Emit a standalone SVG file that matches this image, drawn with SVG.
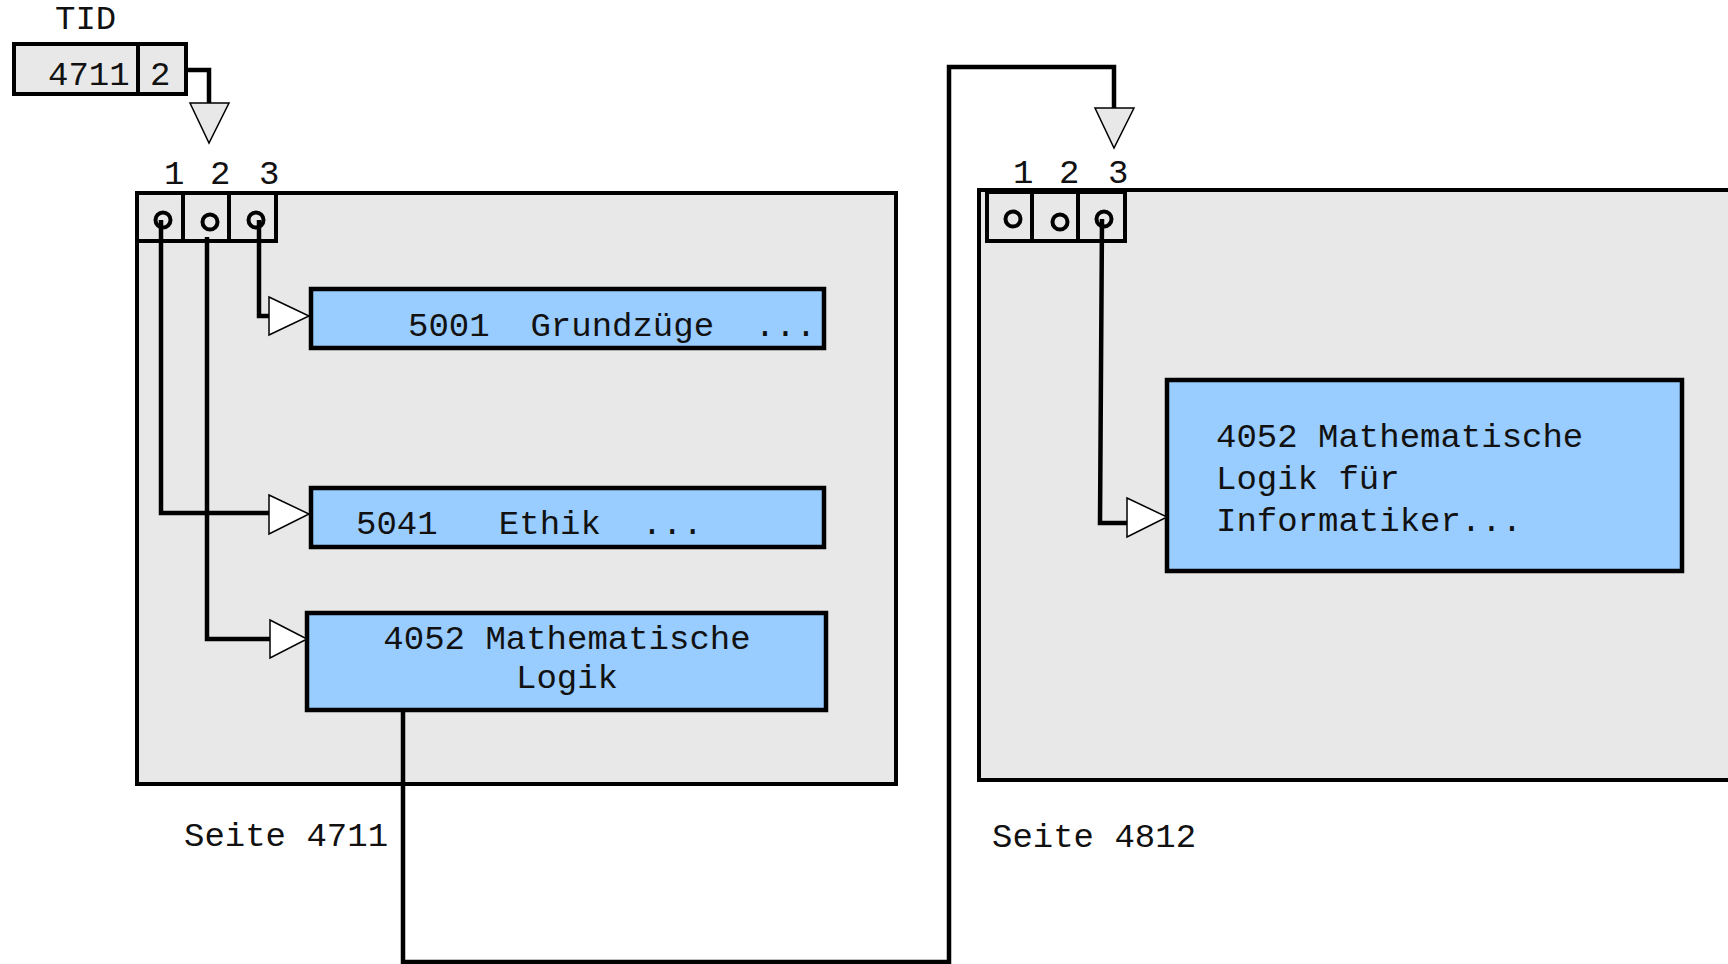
<svg xmlns="http://www.w3.org/2000/svg" width="1728" height="964" viewBox="0 0 1728 964">
<style>
text{font-family:"Liberation Mono","Courier New",monospace;font-size:34px;fill:#111}
.panel{fill:#e8e8e8;stroke:#000;stroke-width:4}
.cell{fill:#e8e8e8;stroke:#000;stroke-width:4}
.box{fill:#99ccff;stroke:#000;stroke-width:4.5}
.hole{fill:none;stroke:#000;stroke-width:4}
.wire{fill:none;stroke:#000;stroke-width:4.5;stroke-linejoin:miter}
.tri{fill:#fff;stroke:#000;stroke-width:1.5}
.trig{fill:#e8e8e8;stroke:#000;stroke-width:1.5}
</style>
<rect width="1728" height="964" fill="#fff"/>

<g id="tid">
<text x="55" y="29">TID</text>
<rect class="cell" x="14" y="44" width="172" height="50"/>
<line x1="138" y1="44" x2="138" y2="94" stroke="#000" stroke-width="4"/>
<text x="48" y="85">4711</text>
<text x="150" y="85">2</text>
</g>

<g id="page4711">
<rect class="panel" x="137" y="193" width="759" height="591"/>
<rect class="cell" x="137" y="193" width="46" height="48"/>
<rect class="cell" x="183" y="193" width="46" height="48"/>
<rect class="cell" x="229" y="193" width="47" height="48"/>
<circle class="hole" cx="163" cy="220" r="7.5"/>
<circle class="hole" cx="210" cy="222" r="7.5"/>
<circle class="hole" cx="256" cy="220" r="7.5"/>
<text x="164" y="184">1</text>
<text x="210" y="184">2</text>
<text x="259" y="184">3</text>
<text x="184" y="846">Seite 4711</text>
</g>

<g id="rec5001">
<rect class="box" x="311" y="289" width="513" height="59"/>
<text x="408" y="336" xml:space="preserve">5001  Grundzüge  ...</text>
</g>

<g id="rec5041">
<rect class="box" x="311" y="488" width="513" height="59"/>
<text x="356" y="534" xml:space="preserve">5041   Ethik  ...</text>
</g>

<g id="rec4052a">
<rect class="box" x="307" y="613" width="519" height="97" stroke-width="6"/>
<text x="567" y="649" text-anchor="middle">4052 Mathematische</text>
<text x="567" y="688" text-anchor="middle">Logik</text>
</g>

<g id="page4812">
<rect class="panel" x="979" y="190" width="760" height="590"/>
<rect class="cell" x="987" y="192" width="45" height="49"/>
<rect class="cell" x="1032" y="192" width="46" height="49"/>
<rect class="cell" x="1078" y="192" width="47" height="49"/>
<circle class="hole" cx="1013" cy="219" r="7.5"/>
<circle class="hole" cx="1060" cy="222" r="7.5"/>
<circle class="hole" cx="1104" cy="219" r="7.5"/>
<text x="1013" y="183">1</text>
<text x="1059" y="183">2</text>
<text x="1108" y="183">3</text>
<text x="992" y="847">Seite 4812</text>
</g>

<g id="rec4052b">
<rect class="box" x="1167" y="380" width="515" height="191"/>
<text x="1216" y="447">4052 Mathematische</text>
<text x="1216" y="489">Logik für</text>
<text x="1216" y="531">Informatiker...</text>
</g>

<g id="connectors">
<path class="wire" d="M186 70 H209 V103"/>
<polygon class="trig" points="190,103 229,103 209,143"/>
<path class="wire" d="M161 220 V513 H269"/>
<polygon class="tri" points="269,495 309,514 269,534"/>
<path class="wire" d="M207 237 V639 H270"/>
<polygon class="tri" points="270,620 307,639 270,658"/>
<path class="wire" d="M259 220 V316 H269"/>
<polygon class="tri" points="269,297 309,316 269,335"/>
<path class="wire" d="M403 710 V962 H949 V67 H1114 V108" stroke-width="5.5"/>
<polygon class="trig" points="1095,108 1134,108 1114,148"/>
<path class="wire" d="M1102 219 L1100 523 H1127"/>
<polygon class="tri" points="1127,498 1167,517 1127,537"/>
</g>
</svg>
